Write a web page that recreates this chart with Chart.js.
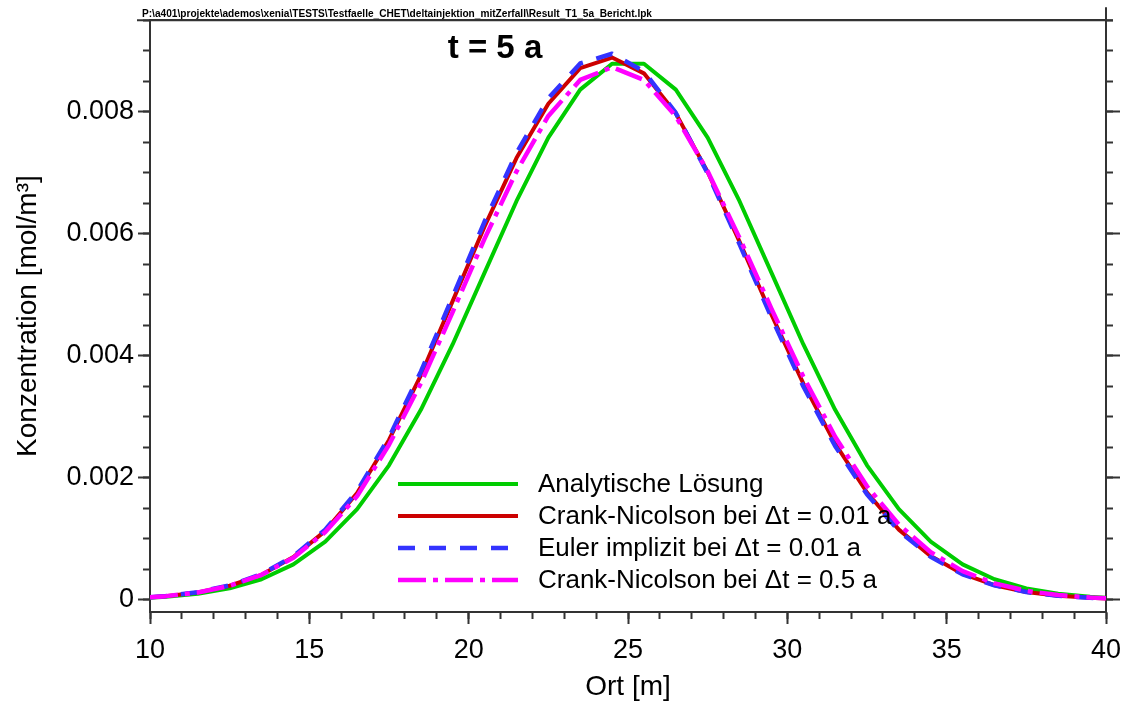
<!DOCTYPE html>
<html>
<head>
<meta charset="utf-8">
<title>Konzentration t = 5 a</title>
<script src="https://cdn.jsdelivr.net/npm/chart.js@4.4.0/dist/chart.umd.min.js"></script>
<style>
  html, body { margin: 0; padding: 0; background: #fff; }
  #wrap { width: 1128px; height: 704px; position: relative; }
</style>
</head>
<body>
<div id="wrap"><canvas id="myChart"></canvas></div>
<script>
// Ortskoordinaten (Zellmitten plus Ränder)
const ort = [10, 10.5, 11.5, 12.5, 13.5, 14.5, 15.5, 16.5, 17.5, 18.5, 19.5, 20.5, 21.5, 22.5, 23.5, 24.5,
             25.5, 26.5, 27.5, 28.5, 29.5, 30.5, 31.5, 32.5, 33.5, 34.5, 35.5, 36.5, 37.5, 38.5, 39.5, 40];

// Konzentrationen [mol/m3]
const analytisch = [0.000034, 0.000049, 0.000098, 0.000187, 0.000337, 0.000581, 0.000952, 0.001485,
                    0.002204, 0.003115, 0.004189, 0.005362, 0.006533, 0.007576, 0.008362, 0.008786,
                    0.008786, 0.008362, 0.007576, 0.006533, 0.005362, 0.004189, 0.003115, 0.002204,
                    0.001485, 0.000952, 0.000581, 0.000337, 0.000187, 0.000098, 0.000049, 0.000034];
const crankNicolson001 = [0.000040, 0.000060, 0.000120, 0.000230, 0.000410, 0.000700, 0.001130, 0.001750,
                          0.002620, 0.003680, 0.004900, 0.006120, 0.007240, 0.008130, 0.008714, 0.008888,
                          0.008629, 0.007973, 0.007012, 0.005870, 0.004677, 0.003547, 0.002560, 0.001759,
                          0.001150, 0.000716, 0.000424, 0.000239, 0.000128, 0.000066, 0.000032, 0.000022];
const eulerImplizit001 = [0.000042, 0.000062, 0.000124, 0.000236, 0.000420, 0.000715, 0.001150, 0.001780,
                          0.002660, 0.003740, 0.004970, 0.006200, 0.007320, 0.008220, 0.008790, 0.008950,
                          0.008660, 0.007980, 0.006990, 0.005830, 0.004630, 0.003500, 0.002520, 0.001730,
                          0.001130, 0.000705, 0.000418, 0.000236, 0.000127, 0.000066, 0.000032, 0.000022];
const crankNicolson05 = [0.000040, 0.000060, 0.000120, 0.000230, 0.000410, 0.000690, 0.001110, 0.001700,
                         0.002540, 0.003550, 0.004720, 0.005920, 0.007020, 0.007930, 0.008521, 0.008730,
                         0.008521, 0.007926, 0.007024, 0.005931, 0.004773, 0.003659, 0.002673, 0.001860,
                         0.001234, 0.000780, 0.000470, 0.000270, 0.000147, 0.000077, 0.000038, 0.000026];

// Achsenteilung
const xMajorTicks = [10, 15, 20, 25, 30, 35, 40];
const xTickLabels = ['10', '15', '20', '25', '30', '35', '40'];
const xMinorTicks = [10, 11, 12, 13, 14, 15, 16, 17, 18, 19, 20, 21, 22, 23, 24, 25,
                     26, 27, 28, 29, 30, 31, 32, 33, 34, 35, 36, 37, 38, 39, 40];
const yMajorTicks = [0, 0.002, 0.004, 0.006, 0.008];
const yTickLabels = ['0', '0.002', '0.004', '0.006', '0.008'];
const yMinorTicks = [0, 0.0005, 0.001, 0.0015, 0.002, 0.0025, 0.003, 0.0035, 0.004, 0.0045,
                     0.005, 0.0055, 0.006, 0.0065, 0.007, 0.0075, 0.008, 0.0085, 0.009, 0.0095];

const dateiPfad = 'P:\\a401\\projekte\\ademos\\xenia\\TESTS\\Testfaelle_CHET\\deltainjektion_mitZerfall\\Result_T1_5a_Bericht.lpk';

const axisColor = '#333';
Chart.defaults.font.family = '"Liberation Sans", Arial, sans-serif';
Chart.defaults.color = '#000';

const toPoints = values => ort.map((x, i) => ({ x: x, y: values[i] }));
const setTicks = values => scale => { scale.ticks = values.map(v => ({ value: v })); };
// horizontal axes: no extra room for overhanging labels
const fixHeight = h => s => { s.height = h; s.paddingLeft = 0; s.paddingRight = 0; };

// setup
const data = {
    datasets: [{
        label: 'Analytische Lösung',
        data: toPoints(analytisch),
        borderColor: '#00cc00',
        borderWidth: 4,
        order: 4
    },
    {
        label: 'Crank-Nicolson bei \u0394t = 0.01 a',
        data: toPoints(crankNicolson001),
        borderColor: '#cc0000',
        borderWidth: 4,
        order: 3
    },
    {
        label: 'Euler implizit bei \u0394t = 0.01 a',
        data: toPoints(eulerImplizit001),
        borderColor: '#3333ff',
        borderWidth: 4.5,
        borderDash: [17, 14],
        order: 2
    },
    {
        label: 'Crank-Nicolson bei \u0394t = 0.5 a',
        data: toPoints(crankNicolson05),
        borderColor: '#ff00ff',
        borderWidth: 4.5,
        borderDash: [28, 7, 5, 7],
        order: 1
    }]
};

// Beschriftungen im Diagramm: Pfad, Rahmen oben, Zeitpunkt, Legende
const beschriftung = {
    id: 'beschriftung',
    afterDraw(chart) {
        const ctx = chart.ctx;
        const area = chart.chartArea;
        ctx.save();
        ctx.fillStyle = '#000';

        ctx.strokeStyle = axisColor;
        ctx.lineWidth = 2;
        ctx.beginPath();
        ctx.moveTo(area.left - 13, area.top);
        ctx.lineTo(area.right + 7, area.top);
        ctx.moveTo(area.right, area.top);
        ctx.lineTo(area.right, area.top - 13);
        ctx.stroke();

        ctx.font = 'bold 11px "Liberation Sans"';
        ctx.textAlign = 'left';
        ctx.textBaseline = 'alphabetic';
        ctx.fillText(dateiPfad, 142, 17, 510);

        ctx.font = 'bold 33px "Liberation Sans"';
        ctx.textAlign = 'center';
        ctx.textBaseline = 'middle';
        ctx.fillText('t = 5 a', 495, 49);

        ctx.font = '26px "Liberation Sans"';
        ctx.textAlign = 'left';
        chart.data.datasets.forEach((ds, i) => {
            const y = 484 + i * 32;
            ctx.beginPath();
            ctx.setLineDash(ds.borderDash || []);
            ctx.strokeStyle = ds.borderColor;
            ctx.lineWidth = ds.borderWidth;
            ctx.moveTo(area.left + 248, y);
            ctx.lineTo(area.left + 368, y);
            ctx.stroke();
            ctx.setLineDash([]);
            ctx.fillText(ds.label, area.left + 388, y + 1);
        });
        ctx.restore();
    }
};

// config
const config = {
    type: 'line',
    data,
    options: {
        responsive: true,
        maintainAspectRatio: false,
        animation: false,
        layout: { padding: { top: 20, left: 0, right: 0, bottom: 0 } },
        elements: {
            line: { tension: 0, borderJoinStyle: 'round', fill: false },
            point: { radius: 0, hoverRadius: 0 }
        },
        plugins: {
            legend: { display: false },
            tooltip: { enabled: false }
        },
        scales: {
            x: {
                type: 'linear', axis: 'x', position: 'bottom', min: 10, max: 40, weight: 1,
                afterBuildTicks: setTicks(xMajorTicks),
                afterFit: fixHeight(92),
                border: { display: true, color: axisColor, width: 2 },
                grid: { display: true, drawOnChartArea: false, tickLength: 12, tickWidth: 2, tickColor: axisColor },
                ticks: { font: { size: 27 }, padding: 10, maxRotation: 0, autoSkip: false,
                         callback: (v, i) => xTickLabels[i] },
                title: { display: true, text: 'Ort [m]', font: { size: 28 }, padding: { top: 2, bottom: 0 } }
            },
            xMinor: {
                type: 'linear', axis: 'x', position: 'bottom', min: 10, max: 40, weight: 0,
                afterBuildTicks: setTicks(xMinorTicks),
                afterFit: fixHeight(0),
                border: { display: false },
                grid: { display: true, drawOnChartArea: false, tickLength: 7, tickWidth: 2, tickColor: axisColor },
                ticks: { display: false }
            },
            xTop: {
                type: 'linear', axis: 'x', position: 'top', min: 10, max: 40,
                afterFit: fixHeight(0),
                border: { display: true, color: axisColor, width: 2 },
                grid: { display: false },
                ticks: { display: false }
            },
            y: {
                type: 'linear', axis: 'y', position: 'left', min: -0.0002, max: 0.0095, weight: 1,
                afterBuildTicks: setTicks(yMajorTicks),
                afterFit: s => { s.width = 150; },
                border: { display: true, color: axisColor, width: 2 },
                grid: { display: true, drawOnChartArea: false, tickLength: 12, tickWidth: 2, tickColor: axisColor },
                ticks: { font: { size: 27 }, padding: 4, autoSkip: false,
                         callback: (v, i) => yTickLabels[i] },
                title: { display: true, text: 'Konzentration [mol/m\u00b3]', font: { size: 28 }, padding: { top: 11, bottom: 0 } }
            },
            yMinor: {
                type: 'linear', axis: 'y', position: 'left', min: -0.0002, max: 0.0095, weight: 0,
                afterBuildTicks: setTicks(yMinorTicks),
                afterFit: s => { s.width = 0; },
                border: { display: false },
                grid: { display: true, drawOnChartArea: false, tickLength: 7, tickWidth: 2, tickColor: axisColor },
                ticks: { display: false }
            },
            yRight: {
                type: 'linear', axis: 'y', position: 'right', min: -0.0002, max: 0.0095, weight: 1,
                afterBuildTicks: setTicks(yMajorTicks),
                afterFit: s => { s.width = 22; },
                border: { display: true, color: axisColor, width: 2 },
                grid: { display: true, drawOnChartArea: false, tickLength: 14, tickWidth: 2, tickColor: axisColor },
                ticks: { display: false }
            },
            yRightMinor: {
                type: 'linear', axis: 'y', position: 'right', min: -0.0002, max: 0.0095, weight: 0,
                afterBuildTicks: setTicks(yMinorTicks),
                afterFit: s => { s.width = 0; },
                border: { display: false },
                grid: { display: true, drawOnChartArea: false, tickLength: 7, tickWidth: 2, tickColor: axisColor },
                ticks: { display: false }
            }
        }
    },
    plugins: [beschriftung]
};

// render init block
const myChart = new Chart(
    document.getElementById('myChart'),
    config
);
</script>
</body>
</html>
